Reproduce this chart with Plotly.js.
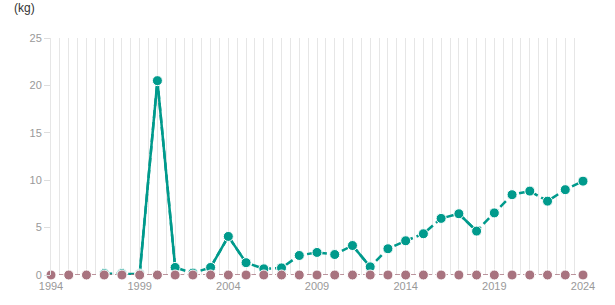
<!DOCTYPE html>
<html>
<head>
<meta charset="utf-8">
<script src="https://cdn.plot.ly/plotly-3.0.1.min.js"></script>
<style>html,body{margin:0;padding:0;background:#fff;}#chart{width:615px;height:305px;}</style>
</head>
<body>
<div id="chart"></div>
<script>
// Data
var allYears = [];
for (var yr = 1994; yr <= 2024; yr++) allYears.push(yr);
var pinkValues = [0,0,0,0,0,0,0,0,0,0,0,0,0,0,0,0,0,0,0,0,0,0,0,0,0,0,0,0,0,0,0];

var tealYears = [1997,1998,1999,2000,2001,2002,2003,2004,2005,2006,2007,2008,2009,2010,2011,2012,2013,2014,2015,2016,2017,2018,2019,2020,2021,2022,2023,2024];
var tealValues = [0.15,0.15,0.1,20.5,0.8,0.2,0.8,4.07,1.3,0.65,0.75,2.06,2.38,2.16,3.11,0.86,2.77,3.61,4.35,5.97,6.46,4.63,6.55,8.47,8.85,7.79,9.0,9.9];
// segments (start year) drawn with a solid line
var solidFrom = [1999,2000,2003,2004,2011,2017];

var tickYears = [1994,1999,2004,2009,2014,2019,2024];
var tickLabels = ['1994','1999','2004','2009','2014','2019','2024'];

// Build solid segments from data
var sx = [], sy = [];
solidFrom.forEach(function (y0) {
  var i = tealYears.indexOf(y0);
  sx.push(tealYears[i], tealYears[i+1], null);
  sy.push(tealValues[i], tealValues[i+1], null);
});

var teal = '#009a8c';
var pink = '#a8737f';

var traces = [
  {x: sx, y: sy, mode: 'lines', line: {color: teal, width: 2.5}, hoverinfo: 'skip', cliponaxis: false, connectgaps: false},
  {x: tealYears, y: tealValues, mode: 'lines+markers', line: {color: teal, width: 2.5, dash: '8px,4px'},
   marker: {color: teal, size: 10, line: {color: '#ffffff', width: 1}}, cliponaxis: false},
  {x: allYears, y: pinkValues, mode: 'lines+markers', line: {color: pink, width: 1.5, dash: '5px,3px'},
   marker: {color: pink, size: 10, line: {color: '#ffffff', width: 1}}, cliponaxis: false}
];

var layout = {
  width: 615, height: 305,
  margin: {l: 51, r: 32, t: 38, b: 30, pad: 0},
  paper_bgcolor: '#ffffff', plot_bgcolor: '#ffffff',
  showlegend: false,
  font: {family: 'Liberation Sans, Arial, sans-serif', size: 11, color: '#999999'},
  xaxis: {
    range: [1994, 2024], tickvals: tickYears, ticktext: tickLabels,
    showgrid: true, gridcolor: '#e6e6e6', gridwidth: 1,
    minor: {dtick: 0.5, tick0: 1994, showgrid: true, gridcolor: '#e6e6e6', gridwidth: 1},
    zeroline: false, showline: false, ticks: '', ticklabelstandoff: 3, fixedrange: true,
    tickfont: {color: '#999999', size: 11}
  },
  yaxis: {
    range: [0, 25], dtick: 5, tick0: 0, showgrid: false, zeroline: false,
    showline: true, linecolor: '#e6e6e6', linewidth: 1,
    ticks: 'outside', ticklen: 6, tickcolor: '#dddddd', tickwidth: 1,
    tickfont: {color: '#999999', size: 11}
  },
  annotations: [{
    text: '(kg)', xref: 'paper', yref: 'paper', x: -0.073, y: 1.128,
    xanchor: 'left', yanchor: 'middle', showarrow: false,
    font: {family: 'Liberation Sans, Arial, sans-serif', size: 12, color: '#333333'}
  }]
};

Plotly.newPlot('chart', traces, layout, {displayModeBar: false, staticPlot: true});
</script>
</body>
</html>
